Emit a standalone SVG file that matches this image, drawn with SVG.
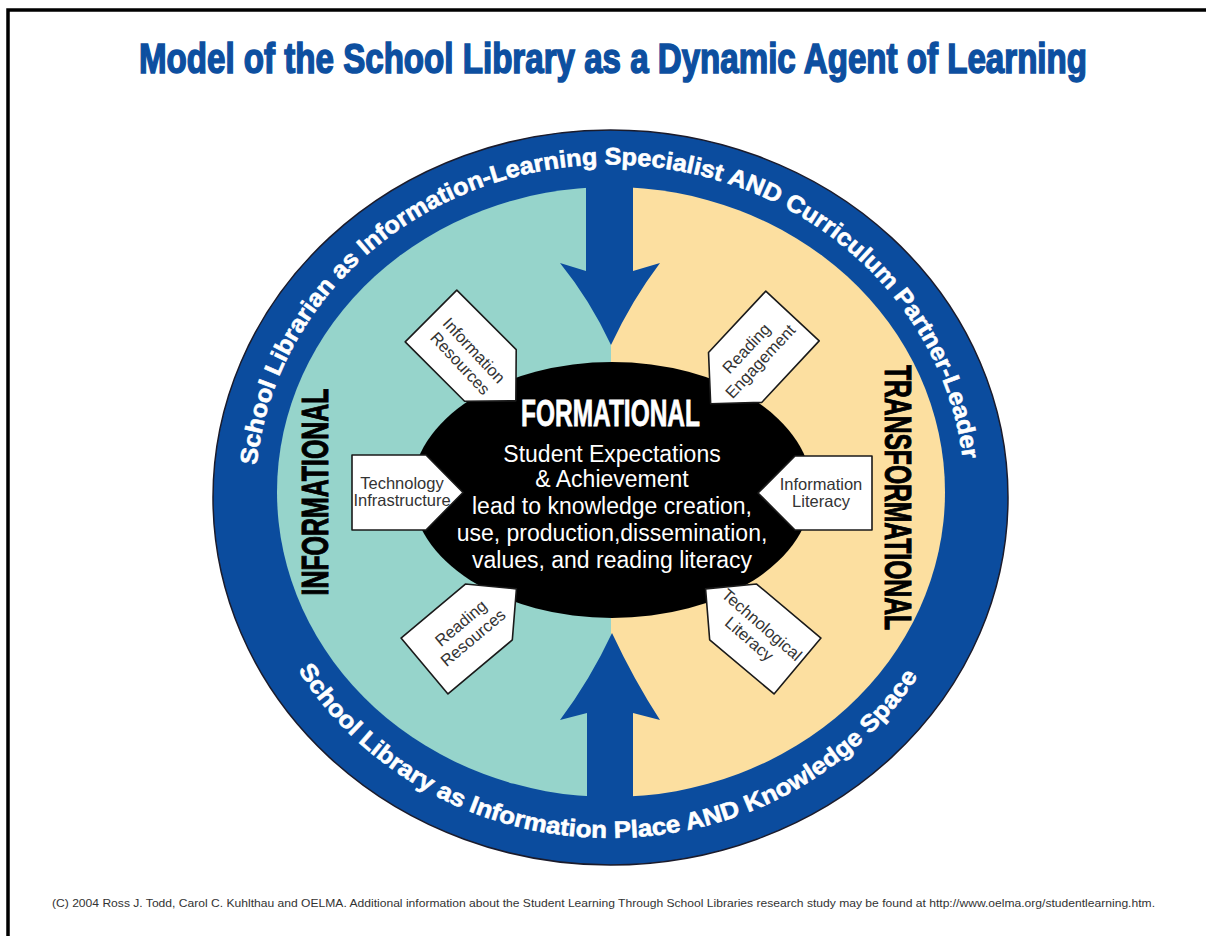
<svg xmlns="http://www.w3.org/2000/svg" width="1206" height="936" viewBox="0 0 1206 936">
<style>
.tag{fill:#fff;stroke:#1a1a1a;stroke-width:1.6;stroke-linejoin:round}
.tagtext{font-family:"Liberation Sans",Arial,sans-serif;font-size:16.5px;fill:#333;text-anchor:middle}
.ring{font-family:"Liberation Sans",Arial,sans-serif;font-weight:bold;font-size:24px;fill:#fff;stroke:#fff;stroke-width:0.6}
.cond{font-family:"Liberation Sans",Arial,sans-serif;font-weight:bold;text-anchor:middle}
.center{font-family:"Liberation Sans",Arial,sans-serif;font-size:23px;fill:#fff;text-anchor:middle}
.arrow{fill:#0B4C9E}
</style>
<defs>
<clipPath id="inner"><ellipse cx="611" cy="492" rx="334" ry="305"/></clipPath>
<path id="topArc" d="M 256.6,465.2 A 355,332 0 0,1 963.4,465.2"/>
<path id="botArc" d="M 298.1,670.1 A 362,341 0 0,0 921.9,670.1"/>
<polygon id="tagD" points="0,-36.5 84,-36.5 120,0 84,36.5 0,36.5"/>
</defs>
<rect x="0" y="0" width="1206" height="936" fill="#fff"/>
<rect x="8" y="10" width="1220" height="950" fill="none" stroke="#000" stroke-width="3.5"/>

<text id="title" class="cond" x="613" y="73" font-size="42" textLength="948" lengthAdjust="spacingAndGlyphs" fill="#0D4FA0" stroke="#0D4FA0" stroke-width="1.6">Model of the School Library as a Dynamic Agent of Learning</text>

<g id="ring">
<ellipse cx="610.5" cy="497.5" rx="397.5" ry="367.5" fill="#0B4C9E" stroke="#1b1b2b" stroke-width="1.5"/>
<g clip-path="url(#inner)">
<rect x="270" y="180" width="341" height="630" fill="#96D4CB"/>
<rect x="611" y="180" width="340" height="630" fill="#FCDFA0"/>
</g>
<text class="ring"><textPath href="#topArc" textLength="1010" lengthAdjust="spacingAndGlyphs">School Librarian as Information-Learning Specialist AND Curriculum Partner-Leader</textPath></text>
<text class="ring"><textPath href="#botArc" textLength="732" lengthAdjust="spacingAndGlyphs">School Library as Information Place AND Knowledge Space</textPath></text>
</g>

<g id="connectors">
<path class="arrow" d="M 586,180 L 633,180 L 633,271 L 660,263 Q 632,300 611,345 Q 590,300 560,263 L 586,271 Z"/>
<path class="arrow" d="M 587,805 L 587,713 L 560,720 Q 590,680 612,633 Q 634,680 660,720 L 633,713 L 633,805 Z"/>
</g>

<g id="informational">
<text class="cond" transform="translate(328,492) rotate(-90)" font-size="36" textLength="207" lengthAdjust="spacingAndGlyphs" fill="#000" stroke="#000" stroke-width="1">INFORMATIONAL</text>
</g>
<g id="transformational">
<text class="cond" transform="translate(885,497.5) rotate(90)" font-size="36" textLength="265" lengthAdjust="spacingAndGlyphs" fill="#000" stroke="#000" stroke-width="1">TRANSFORMATIONAL</text>
</g>

<g id="formational">
<ellipse cx="612" cy="490" rx="200" ry="128" fill="#000"/>
<text class="cond" x="610.5" y="426" font-size="37" textLength="179" lengthAdjust="spacingAndGlyphs" fill="#fff" stroke="#fff" stroke-width="0.8">FORMATIONAL</text>
<text class="center" x="612" y="462">Student Expectations</text>
<text class="center" x="612" y="487">&amp; Achievement</text>
<text class="center" x="612" y="514">lead to knowledge creation,</text>
<text class="center" x="612" y="541">use, production,dissemination,</text>
<text class="center" x="612" y="568">values, and reading literacy</text>
</g>

<g id="tag-information-resources">
<use href="#tagD" class="tag" transform="translate(431,316) rotate(45)"/>
<text class="tagtext" transform="translate(467,357) rotate(47)"><tspan x="0" y="-4">Information</tspan><tspan x="0" y="15">Resources</tspan></text>
</g>
<g id="tag-technology-infrastructure">
<polygon class="tag" points="352,455 426,455 463,492.5 426,530 352,530"/>
<text class="tagtext"><tspan x="402" y="489">Technology</tspan><tspan x="402" y="506">Infrastructure</tspan></text>
</g>
<g id="tag-reading-resources">
<use href="#tagD" class="tag" transform="translate(424.5,666) rotate(-40)"/>
<text class="tagtext" transform="translate(467,630.5) rotate(-40)"><tspan x="0" y="-4">Reading</tspan><tspan x="0" y="15">Resources</tspan></text>
</g>
<g id="tag-reading-engagement">
<use href="#tagD" class="tag" transform="translate(792.5,316) rotate(133)"/>
<text class="tagtext" transform="translate(753.5,355) rotate(-47)"><tspan x="0" y="-4">Reading</tspan><tspan x="0" y="15">Engagement</tspan></text>
</g>
<g id="tag-information-literacy">
<polygon class="tag" points="872,456 795,456 758,493 795,530 872,530"/>
<text class="tagtext"><tspan x="821" y="490">Information</tspan><tspan x="821" y="507">Literacy</tspan></text>
</g>
<g id="tag-technological-literacy">
<use href="#tagD" class="tag" transform="translate(797.5,666) rotate(220)"/>
<text class="tagtext" transform="translate(755.5,632) rotate(41)"><tspan x="0" y="-4">Technological</tspan><tspan x="0" y="15">Literacy</tspan></text>
</g>

<text id="footer" x="52" y="907" font-family="'Liberation Sans',Arial,sans-serif" font-size="11" textLength="1103" lengthAdjust="spacingAndGlyphs" fill="#333">(C) 2004 Ross J. Todd, Carol C. Kuhlthau and OELMA. Additional information about the Student Learning Through School Libraries research study may be found at http://www.oelma.org/studentlearning.htm.</text>
</svg>
